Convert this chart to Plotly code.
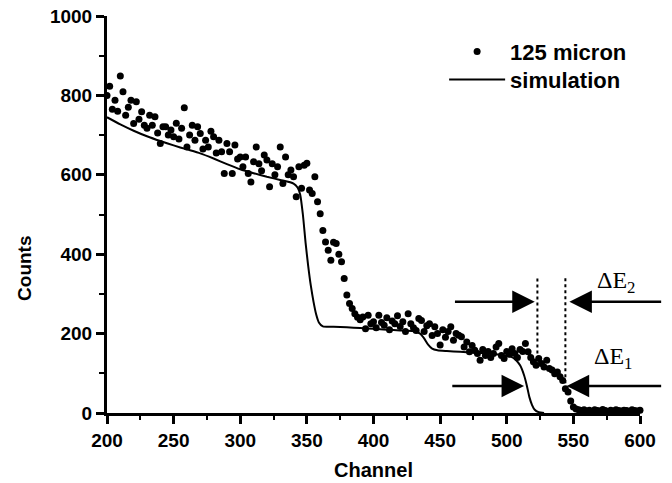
import plotly.graph_objects as go

# ---- data ----
channels = list(range(200, 601, 2))
counts_125 = [
    800, 823, 765, 788, 760, 849, 809, 750, 770, 788,
    729, 784, 740, 759, 725, 717, 750, 725, 746, 705,
    679, 721, 721, 700, 713, 696, 730, 690, 717, 769,
    670, 700, 725, 687, 721, 704, 665, 687, 670, 710,
    696, 655, 687, 658, 603, 679, 658, 603, 675, 640,
    645, 620, 645, 603, 582, 633, 670, 628, 610, 650,
    637, 570, 628, 600, 620, 670, 578, 645, 600, 612,
    595, 545, 620, 566, 624,
    629, 562, 553, 595, 532, 502, 460, 431, 410, 385,
    430, 427, 400, 381, 339, 297, 276, 263, 250, 241,
    235, 242, 212, 246, 225, 230, 215, 246, 228, 221,
    240, 210, 232, 225, 245, 218, 230, 205, 250, 225,
    215, 208, 238, 233, 205,
    220, 225, 195, 217, 200, 171, 210, 191, 205, 217,
    183, 200, 196, 192, 166, 179, 154, 170, 158, 150,
    133, 160, 145, 155, 140, 150, 166, 175, 145, 137,
    155, 148, 162, 150, 140, 160, 155, 175, 154, 140,
    129, 120, 137, 125, 116, 133, 112, 108, 99, 103,
    91, 82, 61, 53, 30,
    15, 10, 8, 6, 8, 5, 7, 4, 8, 6, 5, 9, 6, 4, 7, 5, 8, 6, 5, 7, 6, 4, 8, 6, 5, 7,
]
assert len(channels) == len(counts_125)

sim_channels = [200, 210, 220, 230, 240, 250, 260, 270, 280, 290, 300, 310, 320, 330, 340,
                343, 345, 347, 349, 351, 353, 355, 357, 359, 362,
                370, 380, 390, 400, 410, 420, 430,
                435, 438, 441, 444, 448,
                455, 465, 475, 485, 495, 503,
                507, 510, 513, 515, 517, 519, 521, 524, 528]
sim_counts = [745, 727, 711, 697, 685, 674, 664, 654, 641, 627, 614, 604, 595, 587, 578,
              568, 550, 500, 430, 370, 320, 280, 248, 228, 218,
              217, 216, 214, 212, 210, 208, 206,
              200, 188, 172, 162, 158,
              156, 154, 152, 150, 147, 142,
              133, 120, 95, 70, 40, 20, 8, 2, 0]

x_ticks = [200, 250, 300, 350, 400, 450, 500, 550, 600]
y_ticks = [0, 200, 400, 600, 800, 1000]

# arrow / marker annotation positions (data units)
dE_lines = [523, 544]
dE2_arrow = dict(y=280, left_tail=460, left_head=521, right_tail=617, right_head=547)
dE1_arrow = dict(y=68, left_tail=458, left_head=513, right_tail=617, right_head=545)

FONT = "Liberation Sans, Arial, sans-serif"
SERIF = "Liberation Serif, Times New Roman, serif"

fig = go.Figure()
fig.add_trace(go.Scatter(
    x=channels, y=counts_125, mode="markers", name="125 micron",
    marker=dict(color="black", size=7), cliponaxis=False, legend="legend"))
fig.add_trace(go.Scatter(
    x=sim_channels, y=sim_counts, mode="lines", name="simulation",
    line=dict(color="black", width=2, shape="spline", smoothing=0.6), legend="legend2"))

axis_common = dict(
    showline=True, linecolor="black", linewidth=3, ticks="outside",
    ticklen=8, tickwidth=2.5, tickcolor="black", showgrid=False, zeroline=False,
    automargin=False, ticklabeloverflow="allow",
    tickfont=dict(family=FONT, size=19, color="black", weight="bold"),
)
fig.update_xaxes(range=[200, 600], tickvals=x_ticks,
                 minor=dict(dtick=25, ticklen=4, tickwidth=2, tickcolor="black", ticks="outside"),
                 title=dict(text="Channel", font=dict(family=FONT, size=20, color="black", weight="bold"),
                            standoff=14),
                 **axis_common)
fig.update_yaxes(range=[0, 1000], tickvals=y_ticks,
                 minor=dict(dtick=100, ticklen=5, tickwidth=2, tickcolor="black", ticks="outside"),
                 **axis_common)

for xv, ybot in zip(dE_lines, [150, 75]):
    fig.add_shape(type="line", x0=xv, x1=xv, y0=ybot, y1=345, xref="x", yref="y",
                  line=dict(color="black", width=2, dash="dot"))

for arr in (dE2_arrow, dE1_arrow):
    for tail, head in ((arr["left_tail"], arr["left_head"]), (arr["right_tail"], arr["right_head"])):
        fig.add_annotation(x=head, y=arr["y"], ax=tail, ay=arr["y"], xref="x", yref="y",
                           axref="x", ayref="y", text="", showarrow=True,
                           arrowhead=2, arrowsize=1.8, arrowwidth=2.5, arrowcolor="black")

fig.add_annotation(x=566, y=330, xref="x", yref="y", text="ΔE<sub>2</sub>", showarrow=False,
                   font=dict(family=SERIF, size=24, color="black"), xanchor="left")
fig.add_annotation(x=564, y=138, xref="x", yref="y", text="ΔE<sub>1</sub>", showarrow=False,
                   font=dict(family=SERIF, size=24, color="black"), xanchor="left")

fig.add_annotation(x=-0.156, y=365, xref="paper", yref="y", text="Counts", textangle=-90,
                   showarrow=False, xanchor="center", yanchor="middle",
                   font=dict(family=FONT, size=19, color="black", weight="bold"))

legend_common = dict(xanchor="left", yanchor="top",
                     font=dict(family=FONT, size=22, color="black", weight="bold"),
                     bgcolor="rgba(0,0,0,0)", itemwidth=56, tracegroupgap=0)

fig.update_layout(
    width=672, height=483,
    margin=dict(l=107, r=32, t=16, b=70, autoexpand=False),
    paper_bgcolor="white", plot_bgcolor="white",
    showlegend=True,
    legend=dict(x=0.6325, y=0.963, **legend_common),
    legend2=dict(x=0.6325, y=0.8925, **legend_common),
)

# remove the browser's default 8px body margin so the figure fills the window exactly
fig.write_html("out.html", config={"displayModeBar": False},
               post_script="document.body.style.margin='0';")
